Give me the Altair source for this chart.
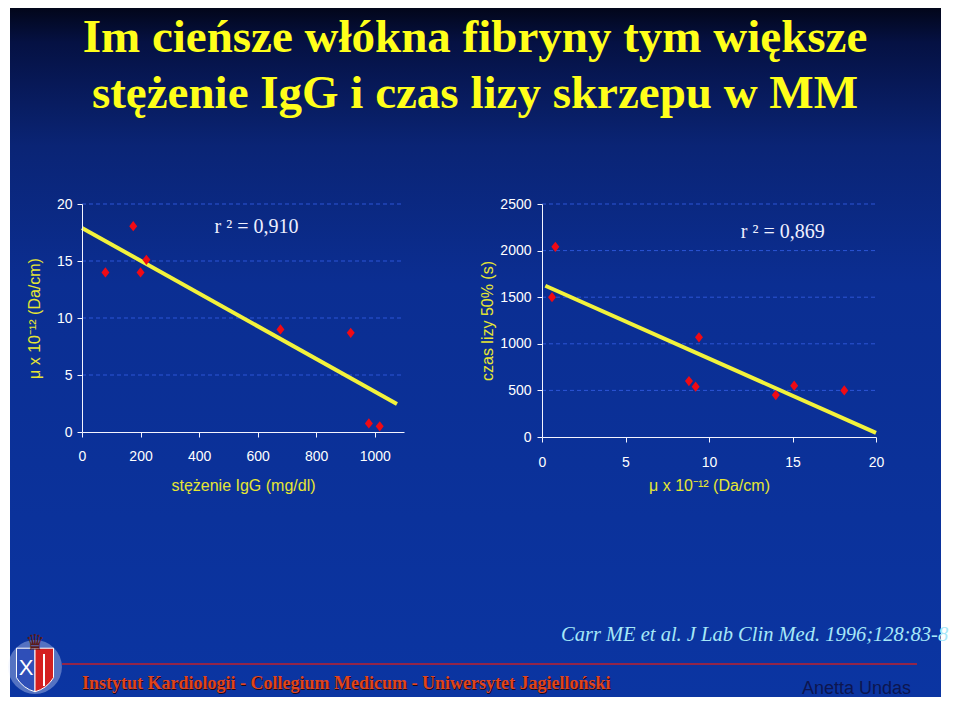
import altair as alt
import pandas as pd

# ---------------- data ----------------
# left panel: IgG concentration (mg/dl) vs fibre mass/length ratio (mu x 10^-12 Da/cm)
igg_conc = [80, 175, 200, 220, 678, 918, 980, 1017]
mu_left = [14.0, 18.05, 14.0, 15.1, 9.0, 8.7, 0.75, 0.5]
fit1_x = [0, 1076]
fit1_y = [17.9, 2.45]
grid1_y = [5, 10, 15, 20]
xticks1 = [0, 200, 400, 600, 800, 1000]
yticks1 = [0, 5, 10, 15, 20]

# right panel: mu vs 50% lysis time (s)
mu_right = [0.6, 0.8, 8.8, 9.2, 9.4, 14.0, 15.1, 18.1]
lysis_time = [1500, 2040, 600, 540, 1070, 450, 550, 500]
fit2_x = [0.2, 20]
fit2_y = [1623, 45]
grid2_y = [500, 1000, 1500, 2000, 2500]
xticks2 = [0, 5, 10, 15, 20]
yticks2 = [0, 500, 1000, 1500, 2000, 2500]

title_lines = ["Im cieńsze włókna fibryny tym większe",
               "stężenie IgG i czas lizy skrzepu w MM"]
r2_text = ["r ² = 0,910", "r ² = 0,869"]
r2_pos_left = [453, 17.5]
r2_pos_right = [11.9, 2130]
mu_title = "μ x 10⁻¹²  (Da/cm)"
igg_title = "stężenie IgG (mg/dl)"
lysis_title = "czas lizy 50% (s)"
citation = "Carr ME et al. J Lab Clin Med. 1996;128:83-8"
institute = "Instytut Kardiologii - Collegium Medicum - Uniwersytet Jagielloński"
author = "Anetta Undas"

# ---------------- styles ----------------
YELLOW = "#ffff1a"
AXIS_YELLOW = "#e6e632"
RED = "#f00a14"
FIT = "#f2f23c"
GRID = "#2d55d6"
SANS = "Liberation Sans"
SERIF = "Liberation Serif"
DIAMOND = "M0,-1 L0.78,0 L0,1 L-0.78,0 Z"


def make_axis(values, title, orient, label_pad, title_pad):
    return alt.Axis(values=values, title=title, orient=orient, grid=False, zindex=1, format="d",
                    domainColor="#f4f4ff", tickColor="#f4f4ff", domainWidth=1, tickWidth=1,
                    tickSize=5, labelColor="white", labelFont=SANS, labelFontSize=14,
                    labelPadding=label_pad, labelFlush=False, labelOverlap=False,
                    titleFont=SANS, titleFontSize=16, titleFontWeight="normal",
                    titleColor=AXIS_YELLOW, titlePadding=title_pad)


one = pd.DataFrame({"k": [0]})

# ---------------- left panel ----------------
sc_x1 = alt.Scale(domain=[0, 1100], nice=False)
sc_y1 = alt.Scale(domain=[0, 20], nice=False)
X1 = alt.X("igg:Q", scale=sc_x1, axis=make_axis(xticks1, igg_title, "bottom", 12, 14))
Y1 = alt.Y("mu:Q", scale=sc_y1, axis=make_axis(yticks1, mu_title, "left", 5, 14))

pts1 = pd.DataFrame({"igg": igg_conc, "mu": mu_left})
fit1 = pd.DataFrame({"igg": fit1_x, "mu": fit1_y})
g1 = pd.DataFrame({"mu": grid1_y})
r21 = pd.DataFrame({"igg": [r2_pos_left[0]], "mu": [r2_pos_left[1]], "t": [r2_text[0]]})

bg = alt.Chart(one).mark_rect(
    color=alt.LinearGradient(
        gradient="linear", x1=0, x2=0, y1=0, y2=1,
        stops=[alt.GradientStop(offset=0, color="#02061a"),
               alt.GradientStop(offset=0.05, color="#051143"),
               alt.GradientStop(offset=0.2, color="#0a2475"),
               alt.GradientStop(offset=0.4, color="#0b2e92"),
               alt.GradientStop(offset=1, color="#0b35a2")])
).encode(x=alt.value(-72), x2=alt.value(859), y=alt.value(-196), y2=alt.value(493))

title1 = alt.Chart(pd.DataFrame({"t": [title_lines[0]]})).mark_text(
    font=SERIF, fontSize=47, fontWeight="bold", color=YELLOW, align="center", baseline="alphabetic"
).encode(text="t:N", x=alt.value(393), y=alt.value(-152))
title2 = alt.Chart(pd.DataFrame({"t": [title_lines[1]]})).mark_text(
    font=SERIF, fontSize=47, fontWeight="bold", color=YELLOW, align="center", baseline="alphabetic"
).encode(text="t:N", x=alt.value(393), y=alt.value(-96))

# footer
foot_rule = alt.Chart(one).mark_rule(color="#c0202c", strokeWidth=1.5).encode(
    x=alt.value(-20), x2=alt.value(835), y=alt.value(460))
inst_shadow = alt.Chart(pd.DataFrame({"t": [institute]})).mark_text(
    font=SERIF, fontSize=18, fontWeight="bold", color="#200810", align="left", baseline="alphabetic"
).encode(text="t:N", x=alt.value(1), y=alt.value(486))
inst = alt.Chart(pd.DataFrame({"t": [institute]})).mark_text(
    font=SERIF, fontSize=18, fontWeight="bold", color="#e0441e", align="left", baseline="alphabetic"
).encode(text="t:N", x=alt.value(0), y=alt.value(485))
auth = alt.Chart(pd.DataFrame({"t": [author]})).mark_text(
    font=SANS, fontSize=18, color="#0d1550", align="left", baseline="alphabetic"
).encode(text="t:N", x=alt.value(720), y=alt.value(490))
cite = alt.Chart(pd.DataFrame({"t": [citation]})).mark_text(
    font=SERIF, fontSize=20.5, fontStyle="italic", color="#a6e8f8", align="left", baseline="alphabetic"
).encode(text="t:N", x=alt.value(479), y=alt.value(437))

# logo (rough emblem)
glow = alt.Chart(one).mark_point(shape="circle", filled=True, color="#dfe8ff", opacity=0.35,
                                 size=2900).encode(x=alt.value(-47), y=alt.value(463))
shield_l = alt.Chart(one).mark_point(
    shape="M-0.85,-1 L0,-1 L0,1 Q-0.55,0.85 -0.85,0.35 Z", filled=True, color="#2f4fb8",
    stroke="white", strokeWidth=1, opacity=1, size=1900).encode(x=alt.value(-47), y=alt.value(466))
shield_r = alt.Chart(one).mark_point(
    shape="M0,-1 L0.85,-1 L0.85,0.35 Q0.55,0.85 0,1 Z", filled=True, color="#d42020",
    stroke="white", strokeWidth=1, opacity=1, size=1900).encode(x=alt.value(-47), y=alt.value(466))
logo_x = alt.Chart(pd.DataFrame({"t": ["X"]})).mark_text(
    font=SANS, fontSize=22, color="white", align="center", baseline="middle"
).encode(text="t:N", x=alt.value(-56), y=alt.value(464))
logo_staff = alt.Chart(one).mark_rule(color="white", strokeWidth=2).encode(
    x=alt.value(-38), y=alt.value(450), y2=alt.value(482))
crown = alt.Chart(pd.DataFrame({"t": ["♛"]})).mark_text(
    font="DejaVu Sans", fontSize=22, color="#5a1a1a", align="center", baseline="alphabetic"
).encode(text="t:N", x=alt.value(-47), y=alt.value(446))

grid1 = alt.Chart(g1).mark_rule(color=GRID, strokeWidth=1, strokeDash=[4, 3]).encode(
    y=Y1, x=alt.datum(0, scale=sc_x1), x2=alt.datum(1100))
line1 = alt.Chart(fit1).mark_line(color=FIT, strokeWidth=4).encode(x=X1, y=Y1)
points1 = alt.Chart(pts1).mark_point(shape=DIAMOND, filled=True, color=RED, opacity=1,
                                     size=105).encode(x=X1, y=Y1)
r2l = alt.Chart(r21).mark_text(font=SERIF, fontSize=20, color="#eef0ff", align="left",
                               baseline="alphabetic").encode(x=X1, y=Y1, text="t:N")

left = alt.layer(bg, glow, shield_l, shield_r, logo_x, logo_staff, crown,
                 title1, title2, foot_rule, inst_shadow, inst, auth, cite,
                 grid1, line1, points1, r2l).properties(width=322, height=228)

# ---------------- right panel ----------------
sc_x2 = alt.Scale(domain=[0, 20], nice=False)
sc_y2 = alt.Scale(domain=[0, 2500], nice=False)
X2 = alt.X("mu:Q", scale=sc_x2, axis=make_axis(xticks2, mu_title, "bottom", 13, 8))
Y2 = alt.Y("lysis:Q", scale=sc_y2, axis=make_axis(yticks2, lysis_title, "left", 6, 4))

pts2 = pd.DataFrame({"mu": mu_right, "lysis": lysis_time})
fit2 = pd.DataFrame({"mu": fit2_x, "lysis": fit2_y})
g2 = pd.DataFrame({"lysis": grid2_y})
r22 = pd.DataFrame({"mu": [r2_pos_right[0]], "lysis": [r2_pos_right[1]], "t": [r2_text[1]]})

grid2 = alt.Chart(g2).mark_rule(color=GRID, strokeWidth=1, strokeDash=[4, 3]).encode(
    y=Y2, x=alt.datum(0, scale=sc_x2), x2=alt.datum(20))
line2 = alt.Chart(fit2).mark_line(color=FIT, strokeWidth=4).encode(x=X2, y=Y2)
points2 = alt.Chart(pts2).mark_point(shape=DIAMOND, filled=True, color=RED, opacity=1,
                                     size=105).encode(x=X2, y=Y2)
r2r = alt.Chart(r22).mark_text(font=SERIF, fontSize=20, color="#eef0ff", align="left",
                               baseline="alphabetic").encode(x=X2, y=Y2, text="t:N")

right = alt.layer(grid2, line2, points2, r2r).properties(width=334, height=233)

chart = alt.hconcat(left, right, spacing=138, bounds="flush").properties(
    padding=0
).configure(background="white", view=alt.ViewConfig(stroke=None))

chart.save("out.html", embed_options={"renderer": "svg", "actions": False})
